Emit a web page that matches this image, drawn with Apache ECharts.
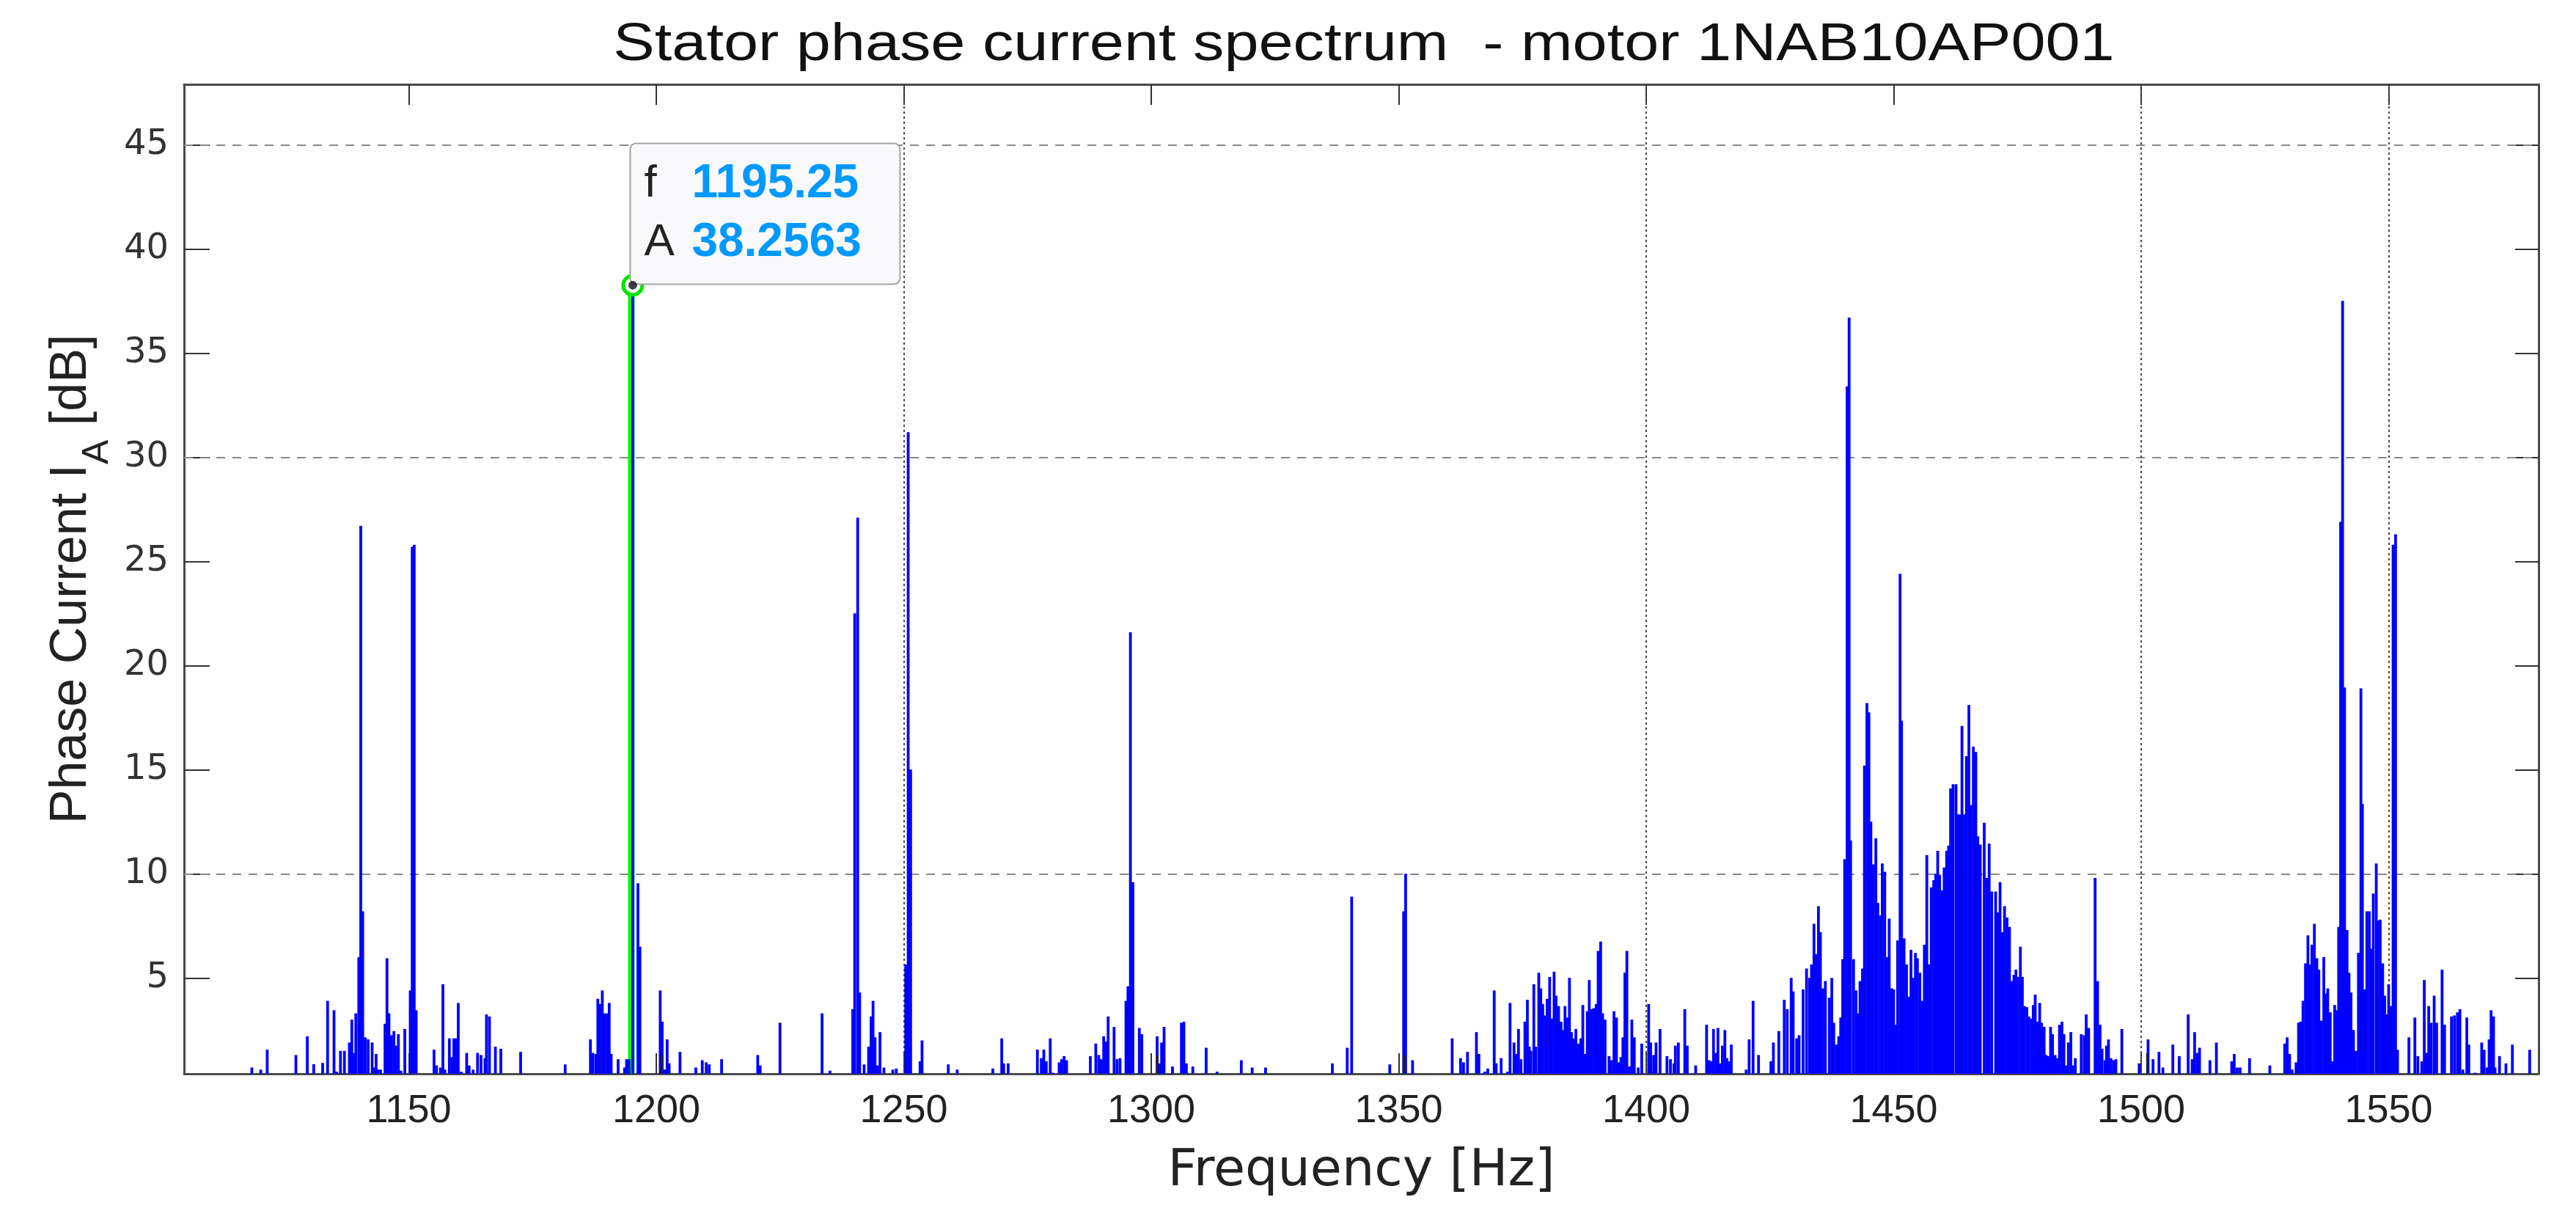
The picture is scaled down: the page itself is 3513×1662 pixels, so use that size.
<!DOCTYPE html>
<html><head><meta charset="utf-8">
<script src="https://cdn.jsdelivr.net/npm/echarts@6/dist/echarts.min.js"></script>
<style>html,body{margin:0;padding:0;background:#fff}#c{width:3513px;height:1662px}</style>
</head><body><div id="c"></div><script>
// ---- axis settings ----
const xRange = [1104.6, 1580.3];
const yRange = [0.4, 47.9];
const xTicks = [1150, 1200, 1250, 1300, 1350, 1400, 1450, 1500, 1550];
const yTicks = [5, 10, 15, 20, 25, 30, 35, 40, 45];
const xGridLines = [1250, 1400, 1500, 1550];
const yGridLines = [10, 30, 45];
const titleText = 'Stator phase current spectrum  - motor 1NAB10AP001';

// ---- data cursor (f [Hz], A [dB]) ----
const cursorPoint = [1195.25, 38.2563];

// ---- spectrum lines [f Hz, A dB] ----
const band1 = [[1118.3,0.7],[1120.1,0.6],[1121.4,1.56],[1127.2,1.3],[1129.5,2.2],[1130.8,0.86],[1132.6,0.92],[1133.6,3.9],[1134.9,3.45],[1135.4,0.5],[1136.2,1.5],[1137.0,1.5],[1138.0,1.9],[1138.5,3.0],[1138.9,1.4],[1139.3,3.3],[1139.9,6.0],[1140.3,26.7],[1140.7,8.2],[1141.2,2.15],[1141.8,2.05],[1142.6,1.9],[1143.0,0.7],[1143.4,1.35],[1143.8,0.6],[1144.3,0.6],[1145.2,2.8],[1145.6,5.95],[1146.0,3.3],[1146.5,2.25],[1147.0,2.45],[1147.4,1.75],[1147.9,2.3],[1148.4,0.55],[1149.2,2.55],[1150.3,4.4],[1150.7,25.7],[1151.1,25.8],[1151.5,3.45],[1155.1,1.56],[1155.6,0.8],[1156.4,0.7],[1156.9,4.7],[1157.3,0.6],[1158.2,2.1],[1158.7,1.2],[1159.1,2.1],[1159.5,2.1],[1160.0,3.8],[1160.6,0.5],[1161.7,1.4],[1162.2,0.8],[1163.0,0.6],[1163.9,1.4],[1164.6,1.3],[1165.4,1.15],[1165.7,3.25],[1166.3,3.15],[1167.5,1.7],[1168.6,1.6],[1172.6,1.45],[1181.6,0.85],[1184.0,0.4]];
const band2 = [[1186.7,2.05],[1187.2,1.4],[1187.8,1.35],[1188.2,4.0],[1188.6,3.75],[1189.1,4.4],[1189.6,3.3],[1190.1,3.3],[1190.5,3.8],[1190.9,1.35],[1192.3,1.1],[1193.6,0.7],[1194.0,1.1],[1194.5,1.1],[1196.3,9.55],[1196.7,6.5],[1200.8,4.4],[1201.2,2.9],[1201.7,0.6],[1202.2,2.05],[1202.6,0.9],[1204.8,1.45],[1208.0,0.7],[1209.3,1.05],[1210.1,0.95],[1210.7,0.85],[1213.2,1.1],[1220.5,1.3],[1221.0,0.8],[1225.0,2.85],[1232.5,0.4],[1233.5,3.3],[1235.1,0.55],[1239.7,3.5],[1240.1,22.5],[1240.7,27.1],[1241.1,4.3],[1242.0,0.85],[1242.9,1.7],[1243.4,3.15],[1243.8,3.9],[1244.2,2.15],[1244.7,0.8],[1245.2,2.4],[1246.0,0.7],[1247.8,0.6],[1248.5,0.65],[1250.4,5.65],[1250.9,31.2],[1251.4,15.0],[1253.3,1.0],[1253.7,2.0],[1259.0,0.85],[1260.8,0.6]];
const band3 = [[1268.0,0.65],[1269.8,2.1],[1270.2,0.9],[1271.1,0.9],[1277.0,1.56],[1277.8,1.15],[1278.3,1.56],[1278.8,1.0],[1279.6,2.1],[1280.1,0.45],[1281.4,0.95],[1281.9,1.1],[1282.4,1.25],[1282.9,1.05],[1287.7,1.25],[1288.8,1.85],[1289.4,1.3],[1289.9,1.1],[1290.4,2.2],[1290.9,1.95],[1291.3,3.15],[1292.5,2.65],[1293.1,1.1],[1293.7,1.15],[1294.9,3.9],[1295.3,4.6],[1295.8,21.6],[1296.3,9.6],[1297.6,2.6],[1298.1,2.3],[1301.2,2.2],[1301.7,0.9],[1302.1,1.9],[1302.6,2.65],[1304.3,0.75],[1306.1,2.85],[1306.6,2.9],[1307.1,0.9],[1308.4,0.75],[1311.1,1.65],[1313.3,0.5],[1318.2,1.05],[1320.4,0.7],[1323.1,0.7],[1336.6,0.9],[1339.6,1.65],[1340.5,8.9]];
const band4 = [[1348.2,0.85],[1351.0,8.2],[1351.4,10.0],[1352.8,1.05],[1360.8,2.1],[1362.5,1.15],[1363.1,0.95],[1363.9,1.45],[1365.7,2.4],[1366.2,1.35],[1367.4,0.5],[1368.0,0.65],[1369.3,4.4],[1369.7,0.9],[1370.7,1.15],[1372.0,0.5],[1372.5,3.8],[1373.3,1.9],[1373.7,1.35],[1374.2,2.55],[1374.7,1.1],[1375.5,2.9],[1376.0,3.95],[1376.4,1.7],[1376.7,1.5],[1377.3,4.7],[1377.7,1.7],[1378.3,5.25],[1378.7,4.5],[1379.1,3.75],[1379.6,3.2],[1380.0,4.0],[1380.5,5.05],[1380.9,3.05],[1381.4,5.3],[1381.8,4.15],[1382.3,3.65],[1382.8,2.9],[1383.2,2.5],[1383.6,3.65],[1384.1,3.1],[1384.5,5.0],[1384.9,2.4],[1385.4,2.1],[1385.8,2.55],[1386.3,1.85],[1386.8,2.1],[1387.2,3.7],[1387.7,1.35],[1388.1,3.4],[1388.5,4.9],[1388.9,3.5],[1389.4,3.55],[1389.9,3.75],[1390.3,6.3],[1390.8,6.75],[1391.2,3.3],[1391.7,3.0],[1392.5,1.25],[1393.0,1.05],[1393.5,3.4],[1394.0,3.1],[1394.4,0.95],[1394.9,1.2],[1395.3,2.15],[1395.7,5.25],[1396.1,6.3],[1396.6,0.75],[1397.1,3.0],[1397.6,2.15],[1398.4,0.7],[1399.1,1.85],[1400.5,3.75],[1400.9,1.9],[1401.5,1.3],[1402.0,1.9],[1402.8,2.55],[1404.2,1.25],[1404.9,1.1],[1405.6,0.9],[1405.9,1.75],[1406.5,1.9],[1407.8,3.5],[1408.3,1.75],[1410.0,0.8],[1412.2,2.75],[1412.7,1.05],[1413.2,1.0],[1413.6,2.55],[1414.1,1.4],[1414.5,2.6],[1414.9,0.9],[1415.4,1.75],[1415.9,2.5],[1416.3,1.15],[1416.8,1.0],[1417.2,1.8],[1420.2,0.6],[1420.8,2.05],[1421.6,3.9],[1422.7,1.3]];
const band5 = [[1425.2,1.0],[1425.7,1.9],[1426.8,2.45],[1427.9,3.95],[1428.5,3.5],[1429.3,5.0],[1429.7,4.35],[1430.4,2.1],[1430.9,2.25],[1431.7,4.45],[1432.4,5.45],[1433.0,5.0],[1433.4,5.65],[1433.9,7.6],[1434.3,6.15],[1434.8,8.45],[1435.2,7.2],[1435.7,4.5],[1436.2,4.85],[1437.0,4.05],[1437.5,5.0],[1437.9,2.85],[1438.4,1.8],[1438.9,2.2],[1439.3,3.1],[1439.7,5.9],[1440.1,10.7],[1440.6,33.4],[1441.0,36.7],[1441.3,11.6],[1441.9,5.9],[1442.4,4.4],[1442.8,3.3],[1443.2,4.85],[1443.7,5.45],[1444.1,15.2],[1444.6,18.2],[1445.0,17.75],[1445.4,12.5],[1445.9,10.45],[1446.4,11.7],[1446.8,8.6],[1447.3,8.0],[1447.7,10.5],[1448.2,10.1],[1448.6,6.0],[1449.1,7.85],[1449.6,4.5],[1450.0,4.45],[1450.4,2.75],[1450.8,6.8],[1451.3,24.4],[1451.6,17.35],[1452.1,6.9],[1452.6,5.65],[1453.1,4.1],[1453.5,6.35],[1454.0,5.0],[1454.4,6.2],[1454.8,5.95],[1455.3,5.25],[1455.8,3.9],[1456.2,6.6],[1456.7,10.9],[1457.1,5.65],[1457.6,9.35],[1458.1,9.7],[1458.5,10.0],[1458.9,11.1],[1459.3,9.95],[1459.8,9.2],[1460.2,10.3],[1460.7,11.1],[1461.1,11.35],[1461.5,14.1],[1462.0,14.3],[1462.6,14.3],[1463.0,12.85],[1463.4,12.85],[1463.8,17.1],[1464.3,12.85],[1464.7,15.65],[1465.2,18.1],[1465.6,13.3],[1466.1,16.1],[1466.6,15.85],[1467.0,11.8],[1467.5,11.4],[1468.3,12.45],[1468.8,9.8],[1469.3,11.45],[1469.8,9.15],[1470.6,9.15],[1471.0,8.15],[1471.5,9.6],[1471.9,7.2],[1472.4,8.45],[1472.9,7.9],[1473.4,7.45],[1473.9,4.85],[1474.3,5.15],[1474.7,5.4],[1475.1,5.05],[1475.6,6.5],[1476.0,5.05],[1476.4,3.65],[1476.9,3.6],[1477.3,3.15],[1477.8,3.05],[1478.2,3.7],[1478.6,4.2],[1479.0,2.9],[1479.5,3.8],[1479.9,2.85],[1480.4,2.65],[1480.8,1.3],[1481.3,1.25],[1481.7,2.65],[1482.1,2.3],[1482.6,1.3],[1483.0,1.15],[1483.5,2.75],[1484.0,2.9],[1484.4,2.3],[1484.8,0.8],[1485.3,1.9],[1485.8,2.4],[1486.2,0.8],[1486.7,1.15],[1487.9,2.3],[1488.5,2.25],[1488.9,3.25],[1489.4,2.6],[1490.7,9.8],[1491.2,4.85],[1491.7,2.75],[1492.1,1.6],[1492.7,1.05],[1493.0,1.75],[1493.4,2.05],[1493.9,1.15],[1494.4,1.05],[1494.9,1.1],[1496.1,2.55],[1499.6,0.9],[1501.4,2.05],[1502.4,1.1],[1503.6,1.45],[1504.4,0.7]];
const band6 = [[1506.4,1.8],[1507.7,1.25],[1509.5,3.25],[1510.3,1.1],[1510.8,2.4],[1511.3,1.4],[1511.8,1.65],[1513.9,1.05],[1515.2,1.9],[1518.3,1.0],[1518.8,1.35],[1519.4,0.7],[1520.0,0.7],[1521.9,1.15],[1526.0,0.8],[1529.0,1.85],[1529.5,2.15],[1530.0,1.35],[1530.5,0.6],[1531.3,0.95],[1531.8,2.85],[1532.2,2.9],[1532.7,3.9],[1533.2,5.7],[1533.7,7.05],[1534.1,5.65],[1534.5,6.6],[1535.0,7.6],[1535.5,5.95],[1535.9,5.4],[1536.4,2.95],[1536.9,6.0],[1537.2,4.25],[1537.7,4.5],[1538.2,3.35],[1538.6,1.0],[1539.1,3.7],[1539.5,3.45],[1539.9,7.45],[1540.3,26.9],[1540.7,37.5],[1541.1,18.95],[1541.6,7.3],[1542.0,5.25],[1542.4,4.3],[1542.9,2.5],[1543.4,1.5],[1543.9,6.2],[1544.4,18.9],[1544.7,13.35],[1545.1,4.45],[1545.6,8.2],[1546.1,8.2],[1546.5,6.4],[1546.9,9.05],[1547.5,10.5],[1547.8,7.75],[1548.3,7.8],[1548.8,5.7],[1549.2,4.15],[1549.6,3.25],[1550.0,4.7],[1550.5,3.65],[1550.9,25.8],[1551.4,26.3],[1551.8,1.55],[1554.1,2.15],[1555.3,3.1],[1555.9,1.25],[1556.7,1.0],[1557.2,4.9],[1557.7,1.4],[1558.1,3.65],[1558.6,2.85],[1559.2,4.15],[1559.7,2.85],[1560.8,5.4],[1561.3,2.75],[1562.7,3.15],[1563.3,3.2],[1563.9,3.35],[1564.4,3.5],[1565.0,0.6],[1565.8,3.1],[1566.2,1.8],[1567.5,0.45],[1568.8,1.9],[1569.3,1.55],[1569.9,0.7],[1570.3,2.05],[1570.7,3.45],[1571.2,3.15],[1571.5,0.7],[1572.4,1.25],[1573.7,0.9],[1575.0,1.8],[1578.5,1.55]];
// short dark lines at the 50 Hz multiples
const harmonicMarks = [[1200.3,1.3],[1300.5,1.3],[1350.3,1.3],[1500.5,1.4]];

const spectrum = [].concat(band1, band2, band3, band4, band5, band6, [cursorPoint]);

const chart = echarts.init(document.getElementById('c'), null, {renderer: 'canvas'});
const axisLineStyle = {color: '#4a4a4a', width: 3};
const tickStyle = {color: '#333', width: 2};

const option = {
  animation: false,
  backgroundColor: '#ffffff',
  grid: {left: 251, right: 51, top: 115, bottom: 198, containLabel: false},
  graphic: [{
    type: 'text', x: 1860, y: 62, scaleX: 1.16, z: 10,
    style: {text: titleText, font: '73px "Liberation Sans", Arial, sans-serif', fill: '#111', align: 'center', verticalAlign: 'middle'}
  }],
  xAxis: [{
    type: 'value', min: xRange[0], max: xRange[1], position: 'bottom',
    axisLine: {show: true, onZero: false, lineStyle: axisLineStyle},
    axisTick: {show: true, inside: true, length: 28, customValues: xTicks, lineStyle: tickStyle},
    axisLabel: {customValues: xTicks, formatter: v => String(v), fontFamily: 'Liberation Sans', fontSize: 54, color: '#222', margin: 24},
    splitLine: {show: false},
    name: 'Frequency [Hz]', nameLocation: 'middle', nameGap: 99,
    nameTextStyle: {fontFamily: 'DejaVu Sans', fontSize: 70, color: '#222'}
  }, {
    type: 'value', min: xRange[0], max: xRange[1], position: 'top',
    axisLine: {show: true, onZero: false, lineStyle: axisLineStyle},
    axisTick: {show: true, inside: true, length: 28, customValues: xTicks, lineStyle: tickStyle},
    axisLabel: {show: false}, splitLine: {show: false}
  }],
  yAxis: [{
    type: 'value', min: yRange[0], max: yRange[1], position: 'left',
    axisLine: {show: true, onZero: false, lineStyle: axisLineStyle},
    axisTick: {show: true, inside: true, length: 35, customValues: yTicks, lineStyle: tickStyle},
    axisLabel: {customValues: yTicks, formatter: v => String(v), fontFamily: 'DejaVu Sans', fontSize: 48, color: '#333', margin: 21},
    splitLine: {show: false},
    name: '{n|Phase Current I}{s|A}{n| [dB]}', nameLocation: 'middle', nameGap: 93, nameRotate: 90,
    nameTextStyle: {
      rich: {
        n: {fontFamily: 'Liberation Sans', fontSize: 70, color: '#222', lineHeight: 120, verticalAlign: 'middle'},
        s: {fontFamily: 'Liberation Sans', fontSize: 50, color: '#222', lineHeight: 50, verticalAlign: 'bottom'}
      }
    }
  }, {
    type: 'value', min: yRange[0], max: yRange[1], position: 'right',
    axisLine: {show: true, onZero: false, lineStyle: axisLineStyle},
    axisTick: {show: true, inside: true, length: 32, customValues: yTicks, lineStyle: tickStyle},
    axisLabel: {show: false}, splitLine: {show: false}
  }],
  series: [{
    type: 'line', xAxisIndex: 0, yAxisIndex: 0, data: [], z: 1, silent: true,
    markLine: {
      silent: true, symbol: ['none', 'none'], z: 1, label: {show: false}, animation: false,
      data: yGridLines.map(v => ({yAxis: v, lineStyle: {type: [12, 10], color: '#888', width: 2}}))
        .concat(xGridLines.map(v => ({xAxis: v, lineStyle: {type: [3, 4], color: '#444', width: 2}})))
    }
  }, {
    type: 'bar', xAxisIndex: 1, yAxisIndex: 0, data: [cursorPoint], barWidth: 9, z: 3,
    itemStyle: {color: '#00ff00'}, clip: true
  }, {
    type: 'bar', xAxisIndex: 0, yAxisIndex: 0, data: spectrum, barWidth: 3.8, z: 4,
    itemStyle: {color: '#0000ff'}, clip: true, large: false
  }, {
    type: 'bar', xAxisIndex: 1, yAxisIndex: 0, data: harmonicMarks, barWidth: 3, z: 5,
    itemStyle: {color: '#222222'}, clip: true
  }, {
    type: 'scatter', xAxisIndex: 0, yAxisIndex: 0, data: [cursorPoint], symbol: 'circle', symbolSize: 26, z: 6,
    itemStyle: {color: '#ffffff', borderColor: '#00e600', borderWidth: 5, opacity: 1},
    label: {
      show: true, position: [13, 13], align: 'left', verticalAlign: 'bottom',
      formatter: p => '{k|f}{v|' + p.value[0] + '}\n{k|A}{v|' + p.value[1] + '}',
      backgroundColor: '#f9f9fc', borderColor: '#a3a3a3', borderWidth: 2, borderRadius: 7,
      padding: [15, 20, 15, 18], width: 328,
      rich: {
        k: {width: 65, fontFamily: 'Liberation Sans', fontSize: 62, color: '#222', lineHeight: 80},
        v: {fontFamily: 'Liberation Sans', fontWeight: 'bold', fontSize: 64, color: '#0099ff', lineHeight: 80}
      }
    }
  }, {
    type: 'scatter', xAxisIndex: 0, yAxisIndex: 0, data: [cursorPoint], symbol: 'circle', symbolSize: 12, z: 7,
    itemStyle: {color: '#111111'}, silent: true
  }]
};
chart.setOption(option);
</script></body></html>
